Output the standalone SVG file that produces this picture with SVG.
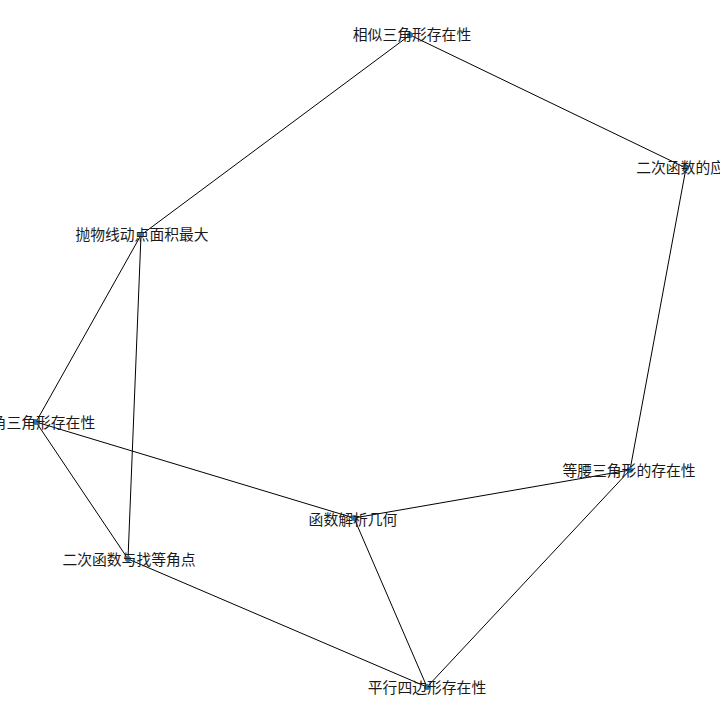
<svg xmlns="http://www.w3.org/2000/svg" width="720" height="720" viewBox="0 0 720 720">
<style>
.e{stroke:#000;stroke-width:1;fill:none}
.d{fill:#1f78b4}
.t{font-family:"Noto Sans CJK SC","DejaVu Sans",sans-serif;font-size:14.8px;fill:#1a1a1a;text-anchor:middle;dominant-baseline:central}
</style>
<rect width="720" height="720" fill="#fff"/>
<g id="edges">
<line class="e" x1="410" y1="35" x2="686" y2="168"/>
<line class="e" x1="410" y1="35" x2="141" y2="235"/>
<line class="e" x1="686" y1="168" x2="630" y2="470"/>
<line class="e" x1="141" y1="235" x2="36" y2="422"/>
<line class="e" x1="141" y1="235" x2="128" y2="559"/>
<line class="e" x1="36" y1="422" x2="354" y2="518"/>
<line class="e" x1="36" y1="422" x2="128" y2="559"/>
<line class="e" x1="354" y1="518" x2="630" y2="470"/>
<line class="e" x1="354" y1="518" x2="427" y2="687"/>
<line class="e" x1="630" y1="470" x2="427" y2="687"/>
<line class="e" x1="128" y1="559" x2="427" y2="687"/>
</g>
<g id="n1"><circle class="d" cx="410" cy="35" r="3"/><text class="t" x="412" y="33">相似三角形存在性</text></g>
<g id="n2"><circle class="d" cx="686" cy="168" r="3"/><text class="t" x="688" y="166">二次函数的应用</text></g>
<g id="n3"><circle class="d" cx="141" cy="235" r="3"/><text class="t" x="142" y="233">抛物线动点面积最大</text></g>
<g id="n4"><circle class="d" cx="36" cy="422" r="3"/><text class="t" x="36" y="421">直角三角形存在性</text></g>
<g id="n5"><circle class="d" cx="630" cy="470" r="3"/><text class="t" x="629" y="469">等腰三角形的存在性</text></g>
<g id="n6"><circle class="d" cx="354" cy="518" r="3"/><text class="t" x="353" y="518">函数解析几何</text></g>
<g id="n7"><circle class="d" cx="128" cy="559" r="3"/><text class="t" x="129" y="558">二次函数与找等角点</text></g>
<g id="n8"><circle class="d" cx="427" cy="687" r="3"/><text class="t" x="427" y="686">平行四边形存在性</text></g>
</svg>
